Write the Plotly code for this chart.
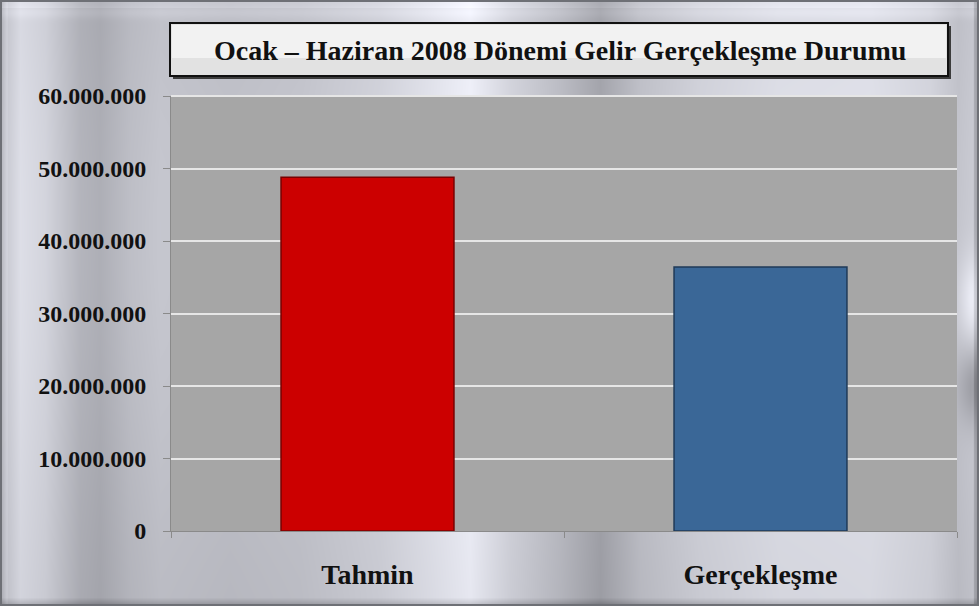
import base64
import struct
import zlib

import numpy as np
import plotly.graph_objects as go

# --- data ---
categories = ["Tahmin", "Gerçekleşme"]
values = [48800000, 36400000]
bar_colors = ["#cc0000", "#3a6797"]
bar_edges = ["#7a0000", "#1f3a58"]
y_ticks = [0, 10000000, 20000000, 30000000, 40000000, 50000000, 60000000]
y_tick_labels = ["0", "10.000.000", "20.000.000", "30.000.000",
                 "40.000.000", "50.000.000", "60.000.000"]
title_text = "Ocak – Haziran 2008 Dönemi Gelir Gerçekleşme Durumu"

W, H = 979, 606
SERIF = "Liberation Serif, Times New Roman, serif"
PLOT_L, PLOT_R, PLOT_T, PLOT_B = 171, 957, 96, 531


def metal_background(w, h):
    """brushed-metal frame, drawn as a PNG data uri"""
    xs = np.arange(w, dtype=float)
    ys = np.arange(h, dtype=float)
    px = [0, 6, 20, 45, 80, 100, 130, 160, 230, 300, 380, 430, 470, 510,
          560, 600, 640, 700, 780, 870, 930, 958, 972, 979]
    pv = [170, 200, 220, 210, 178, 172, 188, 196, 192, 196, 210, 226, 240,
          212, 188, 164, 192, 210, 222, 224, 212, 194, 200, 170]
    v = np.tile(np.interp(xs, px, pv), (h, 1))
    X, Y = np.meshgrid(xs, ys)
    # soft vertical variation
    v += 6 * np.sin(Y / h * np.pi * 1.3)
    # right edge highlight / shadow
    edge = np.clip((X - 950) / 20, 0, 1)
    v += edge * (35 * np.exp(-((Y - 300) / 45) ** 2) - 40 * np.exp(-((Y - 385) / 40) ** 2))
    # top band a little lighter
    v += 10 * np.exp(-((Y - 12) / 6) ** 2)
    # bevel of frame
    v = np.where(Y < 8, v + 10, v)
    v = np.where(X < 8, v + 6, v)
    v = np.where(Y > h - 9, v - 45 * (Y - (h - 9)) / 9, v)
    v = np.where(X > w - 6, v - 20, v)
    v = np.clip(v, 0, 255)
    rgb = np.stack([v * 0.98, v * 0.985, np.minimum(255, v * 1.01 + 3)], axis=2)
    # outer dark border
    border = (X < 2) | (Y < 2) | (X > w - 3) | (Y > h - 3)
    rgb[border] = [110, 112, 118]
    rgb = np.clip(rgb, 0, 255).astype(np.uint8)

    raw = b"".join(b"\x00" + rgb[i].tobytes() for i in range(h))

    def chunk(tag, data):
        c = struct.pack(">I", len(data)) + tag + data
        return c + struct.pack(">I", zlib.crc32(tag + data) & 0xFFFFFFFF)

    png = (b"\x89PNG\r\n\x1a\n"
           + chunk(b"IHDR", struct.pack(">IIBBBBB", w, h, 8, 2, 0, 0, 0))
           + chunk(b"IDAT", zlib.compress(raw, 9))
           + chunk(b"IEND", b""))
    return "data:image/png;base64," + base64.b64encode(png).decode()


def px_x(x):
    return x / W


def px_y(y):
    return (H - y) / H


fig = go.Figure()

fig.add_trace(go.Bar(
    x=categories,
    y=values,
    width=0.44,
    marker=dict(color=bar_colors, line=dict(color=bar_edges, width=1.5)),
    hovertemplate="<b>%{x}</b><br>%{y:,.0f}<extra></extra>",
))

# grey plot area (the background image would cover plot_bgcolor)
fig.add_shape(type="rect", xref="paper", yref="paper",
              x0=px_x(PLOT_L), x1=px_x(PLOT_R), y0=px_y(PLOT_B), y1=px_y(PLOT_T),
              fillcolor="#a6a6a6", line=dict(width=0), layer="below")

# title box with shadow
fig.add_shape(type="rect", xref="paper", yref="paper",
              x0=px_x(173), x1=px_x(951), y0=px_y(79), y1=px_y(26),
              fillcolor="#3c3c3c", line=dict(width=0), layer="above")
fig.add_shape(type="rect", xref="paper", yref="paper",
              x0=px_x(170), x1=px_x(948), y0=px_y(76), y1=px_y(23),
              fillcolor="#e2e2e2", line=dict(color="#111111", width=2), layer="above")
fig.add_shape(type="rect", xref="paper", yref="paper",
              x0=px_x(172), x1=px_x(946), y0=px_y(58), y1=px_y(25),
              fillcolor="#f2f2f2", line=dict(width=0), layer="above")
fig.add_annotation(
    text="<b>" + title_text + "</b>", xref="paper", yref="paper",
    x=px_x(560), y=px_y(50), xanchor="center", yanchor="middle",
    showarrow=False, font=dict(family=SERIF, size=28, color="#111111"),
)

# top gridline at 60.000.000 (plotly hides the one on the plot edge)
fig.add_shape(type="line", xref="paper", yref="paper",
              x0=px_x(PLOT_L), x1=px_x(PLOT_R), y0=px_y(PLOT_T), y1=px_y(PLOT_T),
              line=dict(color="#e6e6e6", width=2), layer="above")

fig.add_layout_image(
    source=metal_background(W, H), xref="paper", yref="paper",
    x=0, y=1, sizex=1, sizey=1, xanchor="left", yanchor="top",
    sizing="stretch", layer="below",
)

fig.update_layout(
    template="none",
    width=W, height=H,
    margin=dict(l=0, r=0, t=0, b=0),
    paper_bgcolor="#c8ccd4",
    plot_bgcolor="#a6a6a6",
    showlegend=False,
    xaxis=dict(
        domain=[px_x(PLOT_L), px_x(PLOT_R)],
        automargin=False,
        showgrid=False,
        showline=True, linecolor="#8a8a8a", linewidth=1,
        ticks="outside", tickson="boundaries", ticklen=6, tickcolor="#8a8a8a",
        ticklabelstandoff=18,
        tickfont=dict(family=SERIF, size=28, color="#111111", weight="bold"),
    ),
    yaxis=dict(
        domain=[px_y(PLOT_B), px_y(PLOT_T)],
        automargin=False,
        range=[0, 60000000],
        tickvals=y_ticks, ticktext=y_tick_labels,
        showgrid=True, gridcolor="#e6e6e6", gridwidth=2,
        zeroline=False,
        showline=True, linecolor="#8a8a8a", linewidth=1,
        ticks="outside", ticklen=7, tickcolor="#8a8a8a",
        ticklabelstandoff=12,
        tickfont=dict(family=SERIF, size=24, color="#111111", weight="bold"),
    ),
)

fig.write_html("out.html", config={"displayModeBar": False},
               post_script="document.body.style.margin = '0';")
